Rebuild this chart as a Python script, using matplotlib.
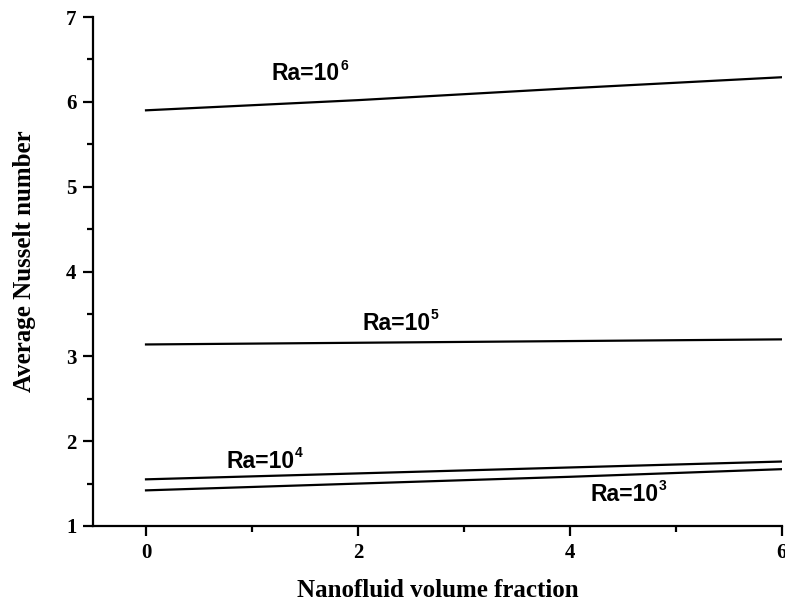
import matplotlib.pyplot as plt
from matplotlib.ticker import MultipleLocator

phi = [0, 2, 4, 6]
nu_ra6 = [5.90, 6.02, 6.16, 6.29]
nu_ra5 = [3.14, 3.16, 3.18, 3.20]
nu_ra4 = [1.55, 1.62, 1.69, 1.76]
nu_ra3 = [1.42, 1.50, 1.58, 1.67]

labels = ["Ra=10", "Ra=10", "Ra=10", "Ra=10"]
exponents = ["6", "5", "4", "3"]
label_pos = [(1.51, 6.33), (2.36, 3.39), (1.08, 1.76), (4.52, 1.375)]

fig = plt.figure(figsize=(7.85, 6.03), dpi=100)
ax = fig.add_axes([0.1185, 0.1277, 0.8775, 0.8441])

for y in [nu_ra6, nu_ra5, nu_ra4, nu_ra3]:
    ax.plot(phi, y, color="black", lw=1.6)

# label + small raised exponent
for txt, sup, (x, y) in zip(labels, exponents, label_pos):
    t = ax.text(x, y, txt, fontsize=16.5, fontweight="bold", family="Liberation Sans",
                ha="center", va="center")
    ax.annotate(sup, xy=(1.0, 0.55), xycoords=t, xytext=(0, 0),
                textcoords="offset points", fontsize=10, fontweight="bold",
                family="Liberation Sans", ha="left", va="bottom")

ax.set_xlim(-0.5, 6)
ax.set_ylim(1, 7)
ax.xaxis.set_major_locator(MultipleLocator(2))
ax.xaxis.set_minor_locator(MultipleLocator(1))
ax.yaxis.set_major_locator(MultipleLocator(1))
ax.yaxis.set_minor_locator(MultipleLocator(0.5))

for s in ["top", "right"]:
    ax.spines[s].set_visible(False)
for s in ["left", "bottom"]:
    ax.spines[s].set_linewidth(1.6)

ax.tick_params(which="major", direction="out", length=7, width=1.6, pad=5,
               labelsize=15)
ax.tick_params(which="minor", direction="out", length=4, width=1.6)
ax.set_xticks([0, 2, 4, 6])
ax.set_xticklabels(["0", "2", "4", "6"], family="Liberation Serif", fontweight="bold")
ax.set_yticks([1, 2, 3, 4, 5, 6, 7])
ax.set_yticklabels(["1", "2", "3", "4", "5", "6", "7"], family="Liberation Serif",
                   fontweight="bold")

ax.set_xlabel("Nanofluid volume fraction", family="Liberation Serif",
              fontweight="bold", fontsize=18)
ax.xaxis.set_label_coords(0.5, -0.104)
ax.set_ylabel("Average Nusselt number", family="Liberation Serif",
              fontweight="bold", fontsize=18)
ax.yaxis.set_label_coords(-0.083, 0.52)

fig.savefig("out.png", dpi=100)
